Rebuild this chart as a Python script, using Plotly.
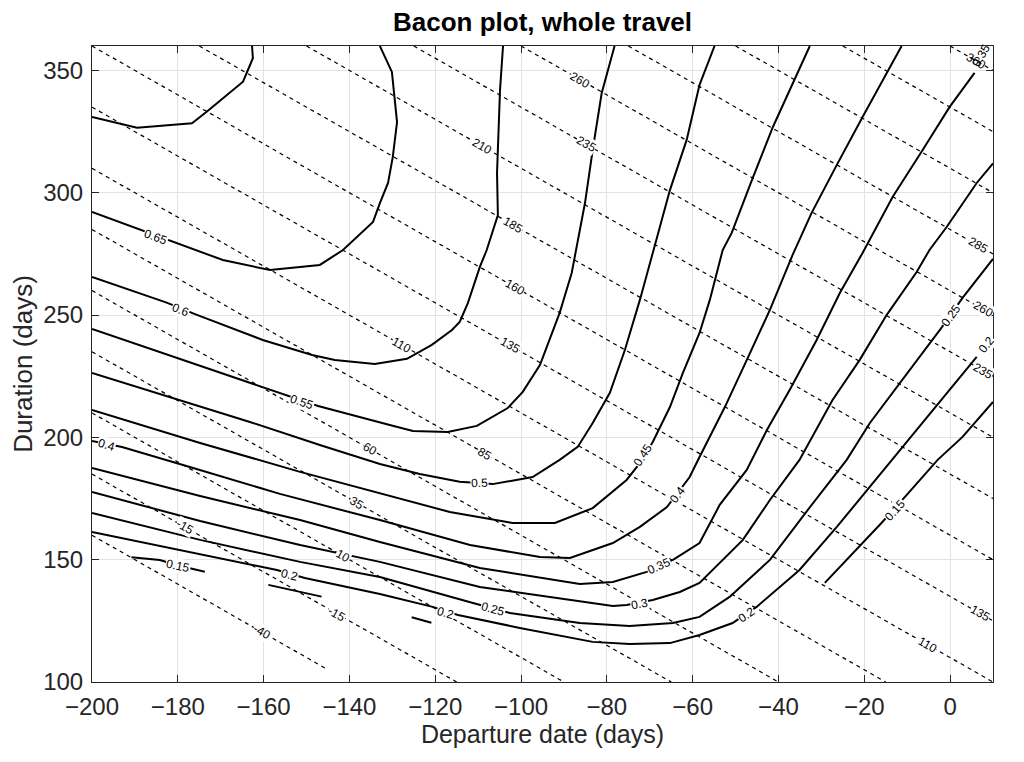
import math
import plotly.graph_objects as go

# ---------------- data ----------------
# axis ranges (days)
X_RANGE = [-200, 10]
Y_RANGE = [100, 360]
x_ticks = [-200, -180, -160, -140, -120, -100, -80, -60, -40, -20, 0]
y_ticks = [100, 150, 200, 250, 300, 350]

# solid contour lines: departure date (x) / duration (y)
c070_dep = [-200, -189.5, -176.7, -173.2, -164.8, -162.5, -162.7]
c070_dur = [331.0, 326.6, 328.4, 333.2, 345.4, 355.0, 360]

c065_dep = [-200, -181.4, -169.5, -158.5, -146.9, -141.5, -138.3, -134.5, -132.9, -131.0, -129.9, -128.9, -130.1, -132.9]
c065_dur = [292.2, 280.0, 272.5, 268.4, 270.5, 276.6, 281.9, 288.1, 295.8, 304.0, 314.6, 328.9, 349.4, 360]

c060_dep = [-200, -182.6, -176.0, -160.2, -148.7, -143.4, -134.1, -126.6, -120.8, -116.1, -114.3, -112.4, -109.6, -108.0, -105.4, -105.6, -104.9, -104.2]
c060_dur = [265.6, 255.1, 250.4, 239.8, 233.7, 231.6, 230.0, 232.1, 237.8, 243.9, 247.2, 254.9, 269.7, 276.6, 290.9, 308.1, 342.0, 360]

c055_dep = [-200, -160.2, -147.3, -130.6, -125.2, -117.1, -110.3, -103.1, -99.6, -95.6, -91.0, -88.2, -85.1, -83.3, -81.2, -78.2]
c055_dur = [244.3, 220.6, 212.8, 205.1, 202.6, 202.2, 204.7, 212.0, 218.6, 229.6, 250.9, 267.2, 295.8, 317.5, 340.8, 360]

c050_dep = [-200, -181.8, -163.2, -146.9, -132.9, -123.6, -114.3, -106.6, -97.3, -91.0, -86.8, -83.3, -79.3, -75.8, -72.3, -69.3, -65.3, -61.4, -58.4, -54.9]
c050_dur = [226.3, 216.5, 206.3, 196.9, 189.1, 185.0, 181.9, 180.9, 183.8, 190.8, 196.1, 205.9, 218.2, 235.7, 256.2, 275.4, 301.1, 321.6, 344.1, 360]

c045_dep = [-200, -174.8, -151.5, -132.9, -116.6, -101.9, -92.1, -83.3, -75.4, -73.0, -69.3, -65.3, -62.3, -58.4, -56.0, -53.0, -50.9, -46.2, -41.3, -32.7]
c045_dur = [211.2, 197.7, 185.9, 177.3, 169.5, 165.0, 165.0, 171.1, 182.6, 187.9, 198.1, 212.4, 226.3, 242.7, 256.2, 276.6, 283.6, 305.2, 326.9, 360]

c040_dep = [-200, -193.0, -177.2, -156.2, -132.9, -111.9, -95.6, -88.6, -78.6, -72.3, -66.0, -60.7, -58.4, -52.5, -47.4, -42.0, -36.7, -32.3, -26.4, -20.4, -11.3]
c040_dur = [198.5, 196.1, 187.9, 176.9, 166.2, 156.0, 151.1, 150.7, 156.8, 163.4, 171.5, 183.8, 192.0, 212.4, 231.6, 252.1, 274.6, 291.7, 311.4, 331.0, 360]

c035_dep = [-200, -174.8, -151.5, -132.9, -109.6, -86.3, -78.6, -70.7, -64.6, -58.4, -53.7, -47.4, -42.7, -37.4, -31.1, -25.7, -20.4, -13.4, -6.4, -0.1, 5.7]
c035_dur = [187.5, 176.0, 166.2, 157.2, 146.6, 140.1, 140.9, 145.0, 149.9, 156.8, 172.4, 186.7, 203.0, 219.4, 239.8, 259.0, 275.4, 298.3, 317.5, 335.1, 349.0]

c030_dep = [-200, -174.8, -151.5, -132.9, -109.6, -94.0, -78.6, -75.4, -69.3, -63.0, -58.4, -48.3, -42.0, -35.1, -27.4, -21.1, -14.8, -7.8, -4.8, -0.8, 6.2, 10]
c030_dur = [177.7, 165.8, 156.0, 149.1, 138.8, 134.8, 131.1, 131.5, 133.5, 136.8, 140.5, 158.1, 174.4, 190.8, 215.3, 231.6, 250.0, 267.6, 276.6, 286.0, 304.0, 312.0]

c025_dep = [-200, -174.8, -151.5, -132.9, -111.2, -102.6, -86.3, -74.7, -64.6, -58.4, -51.4, -42.0, -33.2, -24.1, -18.7, -11.8, -1.9, 2.9, 10]
c025_dur = [169.1, 158.1, 149.1, 142.9, 132.3, 128.2, 124.1, 122.9, 124.1, 126.6, 134.8, 149.9, 170.3, 190.8, 205.9, 222.2, 245.1, 257.0, 273.0]

c020_dep = [-200, -179.5, -156.9, -150.4, -132.9, -120.6, -114.7, -100.3, -83.3, -74.7, -65.3, -58.4, -50.7, -45.1, -35.1, -26.4, -13.6, -11.1, -4.1, 6.2]
c020_dur = [161.3, 154.0, 145.8, 142.5, 136.0, 130.7, 127.4, 122.1, 116.4, 115.5, 115.9, 119.2, 124.1, 130.7, 145.8, 163.4, 190.8, 196.1, 211.2, 232.9]

c015a_dep = [-190.8, -184.2, -179.9, -176.5, -173.7]
c015a_dur = [151.0, 149.9, 147.6, 146.2, 145.1]
c015b_dep = [-158.9, -146.5]
c015b_dur = [139.7, 134.9]
c015c_dep = [-125.5, -120.9]
c015c_dur = [126.5, 124.2]
c015d_dep = [-29.2, -16.0, -10.1, -2.9, 2.9, 10]
c015d_dur = [140.5, 165.0, 176.5, 190.8, 200.2, 214.5]

# dashed lines: arrival date = departure + duration (days)
arrival_levels = [-40, -15, 10, 35, 60, 85, 110, 135, 160, 185, 210, 235, 260, 285, 310, 335, 360]
arrival_first_end = -145  # the -40 line stops short of the bottom axis

# labels of the solid contours
sol_lab_text = ["0.65", "0.6", "0.55", "0.5", "0.45", "0.4", "0.4", "0.35", "0.3", "0.25",
                "0.2", "0.2", "0.2", "0.25", "0.2", "0.15", "0.15"]
sol_lab_x = [-185.2, -179.3, -151.1, -109.6, -71.6, -63.6, -196.6, -67.8, -72.3, -106.6,
             -153.9, -117.6, -47.5, 0.3, 8.4, -179.9, -12.8]
sol_lab_y = [282.1, 252.1, 214.6, 181.4, 192.8, 176.5, 196.9, 147.4, 131.9, 129.8,
             143.7, 128.3, 127.4, 250.0, 237.8, 147.4, 170.3]
sol_lab_ang = [20, 21, 19, -2, -57, -52, 17, -24, -11, 15, 14, 16, -34, -54, -52, 12, -48]

# labels of the dashed lines: level and departure position
dash_lab_c = [-40, -15, -15, 10, 35, 60, 85, 110, 135, 160, 185, 210, 235, 260, 285, 260, 235, 135, 110]
dash_lab_x = [-160.4, -178.3, -143.0, -141.5, -138.3, -135.2, -108.4, -127.9, -102.6, -101.5, -101.9,
              -109.2, -84.8, -86.3, 6.5, 7.7, 7.7, 6.9, -5.2]

# ---------------- figure ----------------
W, H = 1024, 762
M = dict(l=84, r=39, t=38, b=88)   # page body adds 8 px on top/left
FONT = "Liberation Sans, Arial, Helvetica, sans-serif"
LAB_SIZE = 12

fig = go.Figure()

# dashed arrival lines
for c in arrival_levels:
    x0 = max(X_RANGE[0], c - Y_RANGE[1])
    x1 = min(X_RANGE[1], c - Y_RANGE[0])
    if c == arrival_levels[0]:
        x1 = arrival_first_end
    fig.add_trace(go.Scatter(x=[x0, x1], y=[c - x0, c - x1], mode="lines",
                             line=dict(color="black", width=1.2, dash="4px,4px"),
                             hoverinfo="skip", showlegend=False))

solid = [(c070_dep, c070_dur), (c065_dep, c065_dur), (c060_dep, c060_dur), (c055_dep, c055_dur),
         (c050_dep, c050_dur), (c045_dep, c045_dur), (c040_dep, c040_dur), (c035_dep, c035_dur),
         (c030_dep, c030_dur), (c025_dep, c025_dur), (c020_dep, c020_dur),
         (c015a_dep, c015a_dur), (c015b_dep, c015b_dur), (c015c_dep, c015c_dur), (c015d_dep, c015d_dur)]
for xs, ys in solid:
    fig.add_trace(go.Scatter(x=xs, y=ys, mode="lines", line=dict(color="black", width=2),
                             hoverinfo="skip", showlegend=False))

ann = []
# angle of the arrival lines on screen
pw = W - M["l"] - M["r"]
ph = H - M["t"] - M["b"]
dash_ang = math.degrees(math.atan((ph / (Y_RANGE[1] - Y_RANGE[0])) / (pw / (X_RANGE[1] - X_RANGE[0]))))
for c, x in zip(dash_lab_c, dash_lab_x):
    ann.append(dict(x=x, y=c - x, text=str(c), showarrow=False, textangle=dash_ang,
                    font=dict(family=FONT, size=LAB_SIZE, color="black"), bgcolor="white", borderpad=0))
for t, x, y, a in zip(sol_lab_text, sol_lab_x, sol_lab_y, sol_lab_ang):
    ann.append(dict(x=x, y=y, text=t, showarrow=False, textangle=a,
                    font=dict(family=FONT, size=LAB_SIZE, color="black"), bgcolor="white", borderpad=0))
# overlapping labels in the top right corner
ann.append(dict(x=6.0, y=354.0, text="360", showarrow=False, textangle=dash_ang,
                font=dict(family=FONT, size=LAB_SIZE, color="black")))
ann.append(dict(x=7.3, y=356.3, text="0.35", showarrow=False, textangle=-60,
                font=dict(family=FONT, size=LAB_SIZE, color="black")))

axis_common = dict(showgrid=True, gridcolor="#e3e3e3", gridwidth=1, zeroline=False,
                   showline=True, linecolor="#262626", linewidth=1, mirror="ticks",
                   ticks="inside", ticklen=7, tickcolor="#262626",
                   tickfont=dict(family=FONT, size=24, color="#262626"))

fig.update_layout(
    width=W, height=H, margin=M,
    paper_bgcolor="white", plot_bgcolor="white",
    title=dict(text="<b>Bacon plot, whole travel</b>", x=(M["l"] + W - M["r"]) / 2 / W, xanchor="center",
               y=1 - 14 / H, yanchor="middle", yref="container",
               font=dict(family=FONT, size=26, color="black")),
    xaxis=dict(range=X_RANGE, tickvals=x_ticks, ticklabelstandoff=3,
               title=dict(text="Departure date (days)", standoff=6,
                          font=dict(family=FONT, size=25, color="#262626")), **axis_common),
    yaxis=dict(range=Y_RANGE, tickvals=y_ticks, ticklabelstandoff=3,
               title=dict(text="Duration (days)", standoff=6,
                          font=dict(family=FONT, size=26, color="#262626")), **axis_common),
    annotations=ann,
)

fig.write_html("out.html")
